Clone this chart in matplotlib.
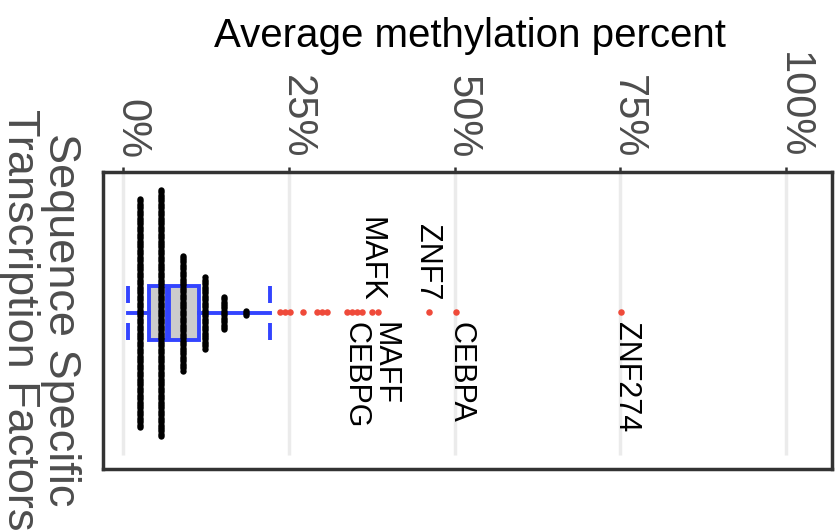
import matplotlib
matplotlib.use("Agg")
import matplotlib.pyplot as plt
import matplotlib.transforms as mtrans
import numpy as np

plt.rcParams['font.family'] = ['Liberation Sans', 'DejaVu Sans']

# methylation percent data
ticks = [0, 25, 50, 75, 100]
tick_labels = ["0%", "25%", "50%", "75%", "100%"]

# dotplot bins (percent) and number of factors per bin
bin_centers = [2.5, 5.7, 9.0, 12.4, 15.3, 18.5]
bin_counts = [100, 108, 51, 32, 15, 3]

# box summary
box_q1 = 3.9
box_med = 6.8
box_q3 = 11.5
whisk_lo = 0.8
whisk_hi = 22.2

# outliers (percent)
outliers = [23.7, 24.4, 25.2, 27.1, 29.3, 30.0, 30.8, 33.8, 34.5, 35.3,
            36.0, 37.6, 38.5, 46.2, 50.2, 75.1]

# labelled outliers
lab_names = ["MAFK", "ZNF7", "MAFF", "CEBPG", "CEBPA", "ZNF274"]
lab_values = [37.6, 46.2, 38.5, 36.0, 50.2, 75.1]
lab_above = [True, True, False, False, False, False]
lab_dx_px = [-2, -2, 6, -6, 5, 5]

fig = plt.figure(figsize=(8.38, 5.31), dpi=100)
ax = fig.add_axes([103/838, 1 - 469/531, (832 - 103)/838, (469 - 172)/531])

x0 = 123
ppp = (786 - 123) / 100.0  # pixels per percent
ax.set_xlim((103 - x0) / ppp, (832 - x0) / ppp)
ax.set_ylim(0, 1)

ymid = (469 - 313) / 297.0
half_box = 27.2 / 297.0

# grid
ax.vlines(ticks, 0.047, 1, transform=ax.get_xaxis_transform(),
          color="#EBEBEB", lw=2.5, zorder=0)

# dotplot columns
step = 2.3 / 297.0
for xc, n in zip(bin_centers, bin_counts):
    ys = ymid + (np.arange(n) - (n - 1) / 2.0) * step
    ax.scatter(np.full(n, xc), ys, s=21, color="black", lw=0, zorder=3)

# box
stats = [dict(q1=box_q1, med=box_med, q3=box_q3, whislo=whisk_lo,
              whishi=whisk_hi, fliers=[])]
blue = "#3344FF"
ax.bxp(stats, positions=[ymid], widths=2 * half_box, orientation="horizontal",
       patch_artist=True, showcaps=False, showfliers=False,
       boxprops=dict(facecolor="#CCCCCC", edgecolor=blue, lw=2.8, alpha=1),
       medianprops=dict(color=blue, lw=4.2),
       whiskerprops=dict(color=blue, lw=2.8), manage_ticks=False)
# make the box face sit behind the dots
for p in ax.patches:
    p.set_zorder(2)
    p.set_facecolor((0.8, 0.8, 0.8, 0.9))

# dashed caps with a gap in the middle
gap = 10 / 297.0
for w in [whisk_lo, whisk_hi]:
    ax.vlines([w, w], [ymid - half_box, ymid + gap], [ymid - gap, ymid + half_box],
              color=blue, lw=2.8, zorder=4)

# outliers
red = "#EF4A3A"
ax.scatter(outliers, np.full(len(outliers), (469 - 312) / 297.0), s=22,
           color=red, lw=0, zorder=4)

# labels
for name, v, above, dx in zip(lab_names, lab_values, lab_above, lab_dx_px):
    dy = 10 if above else -10
    if name == "ZNF7":
        dy = 12
    ax.annotate(name, (v, (469 - 312) / 297.0), xytext=(dx * 0.72, dy * 0.72),
                textcoords="offset points", rotation=-90, ha="center",
                va="bottom" if above else "top", fontsize=22, color="black")

# axes styling
ax.xaxis.tick_top()
ax.set_xticks(ticks)
ax.set_xticklabels(tick_labels, rotation=-90, ha="center", va="bottom",
                   fontsize=30, color="#4D4D4D")
ax.tick_params(axis="x", length=3.6, width=1.8, color="#333333", pad=6)
ax.set_yticks([])
shift = mtrans.ScaledTranslation(8 / 100.0, 0, fig.dpi_scale_trans)
for lab in ax.get_xticklabels():
    lab.set_transform(lab.get_transform() + shift)
for sp in ax.spines.values():
    sp.set_linewidth(2.5)
    sp.set_color("#333333")

fig.text(470 / 838, 1 - 47 / 531, "Average methylation percent",
         ha="center", va="baseline", fontsize=29, color="black")
fig.text(40 / 838, 1 - 320 / 531, "Sequence Specific\nTranscription Factors",
         rotation=-90, ha="center", va="center", multialignment="center",
         linespacing=1.0, fontsize=32.5, color="#4D4D4D")

fig.savefig("out.png", dpi=100)
